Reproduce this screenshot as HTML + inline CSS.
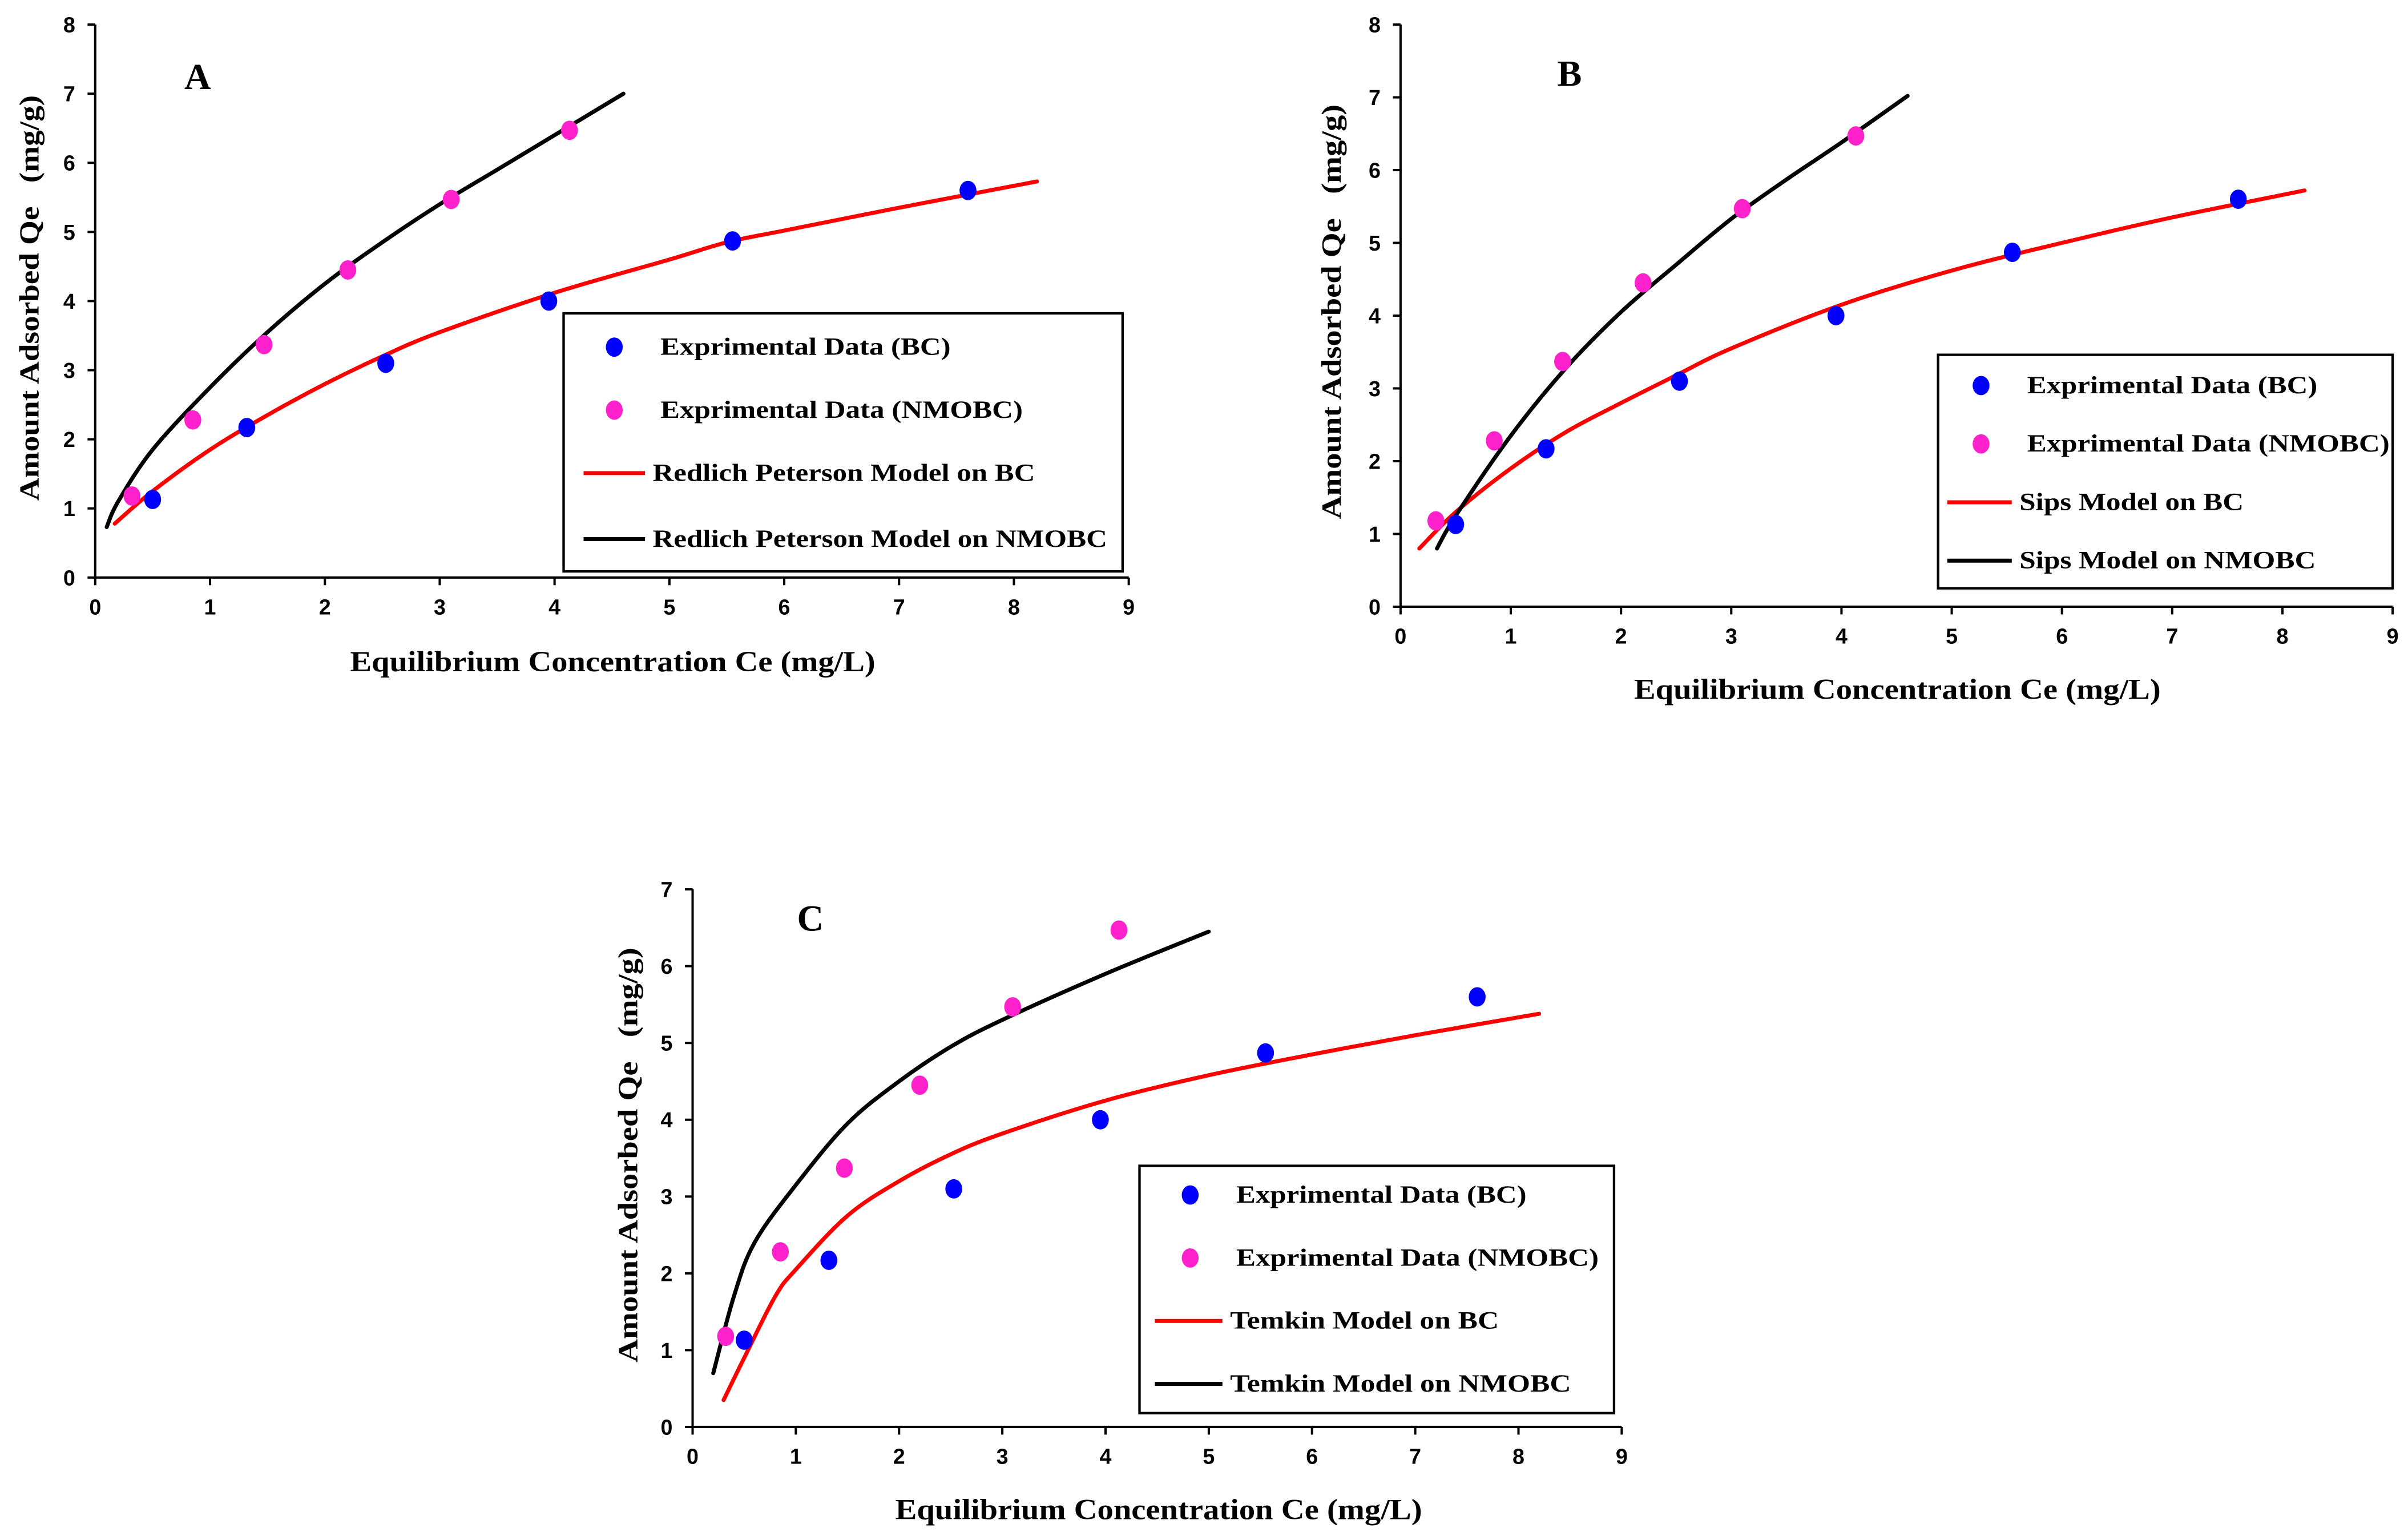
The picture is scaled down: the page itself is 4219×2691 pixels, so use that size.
<!DOCTYPE html>
<html><head><meta charset="utf-8"><style>
html,body{margin:0;padding:0;background:#fff;}
svg{display:block;}
</style></head><body>
<svg id="fig" xmlns="http://www.w3.org/2000/svg" width="4219" height="2691" viewBox="0 0 1568 1000" preserveAspectRatio="none"></svg>
<script>
// Data (shared experimental points)
const bcX = [0.5, 1.32, 2.53, 3.95, 5.55, 7.6];
const bcY = [1.13, 2.17, 3.1, 4.0, 4.87, 5.6];
const nmX = [0.32, 0.85, 1.47, 2.2, 3.1, 4.13];
const nmY = [1.18, 2.28, 3.37, 4.45, 5.47, 6.47];
// Model curves
const aRedX = [0.17,0.5,1,1.5,2,2.5,3,4,5,5.5,6,7,8.2];
const aRedY = [0.78,1.25,1.85,2.35,2.8,3.2,3.55,4.12,4.6,4.85,5.02,5.35,5.73];
const aBlkX = [0.1,0.2,0.5,1,1.5,2,2.5,3,3.5,4,4.6];
const aBlkY = [0.73,1.1,1.85,2.75,3.55,4.25,4.85,5.4,5.9,6.4,7.0];
const bRedX = [0.17,0.5,1,1.5,2,2.5,3,4,5,6,7,8.2];
const bRedY = [0.8,1.3,1.9,2.4,2.8,3.18,3.55,4.15,4.62,5.0,5.35,5.72];
const bBlkX = [0.33,0.5,1,1.5,2,2.5,3,3.5,4,4.6];
const bBlkY = [0.8,1.25,2.35,3.28,4.05,4.7,5.33,5.87,6.38,7.02];
const cRedX = [0.3,0.5,0.8,1,1.5,2,2.5,3,4,5,6,7,8.2];
const cRedY = [0.35,0.9,1.7,2.05,2.75,3.2,3.55,3.82,4.25,4.58,4.85,5.1,5.38];
const cBlkX = [0.2,0.4,0.6,1,1.5,2,2.5,3,4,5];
const cBlkY = [0.7,1.7,2.4,3.15,3.95,4.5,4.95,5.3,5.9,6.45];
const xTicks = [0,1,2,3,4,5,6,7,8,9];
const yTicksAB = [0,1,2,3,4,5,6,7,8];
const yTicksC = [0,1,2,3,4,5,6,7];

const NS = "http://www.w3.org/2000/svg";
const svg = document.getElementById('fig');
function mk(tag, attrs, parent){
  const e = document.createElementNS(NS, tag);
  for (const k in attrs) e.setAttribute(k, attrs[k]);
  (parent||svg).appendChild(e);
  return e;
}
function txt(str, attrs, parent){ const t = mk('text', attrs, parent); t.textContent = str; return t; }

function smoothPath(P){
  let d = 'M' + P[0][0].toFixed(2) + ',' + P[0][1].toFixed(2);
  for (let i = 0; i < P.length - 1; i++){
    const p0 = P[Math.max(0,i-1)], p1 = P[i], p2 = P[i+1], p3 = P[Math.min(P.length-1,i+2)];
    const c1x = p1[0] + (p2[0]-p0[0])/6, c1y = p1[1] + (p2[1]-p0[1])/6;
    const c2x = p2[0] - (p3[0]-p1[0])/6, c2y = p2[1] - (p3[1]-p1[1])/6;
    d += ' C' + [c1x,c1y,c2x,c2y,p2[0],p2[1]].map(v=>v.toFixed(2)).join(',');
  }
  return d;
}

function panel(p){
  const g = mk('g', {});
  
  
  const sx = v => p.x0 + (p.x9 - p.x0) * v / 9;
  const sy = v => p.y0 - (p.y0 - p.yt) * v / p.ymax;
  const ax = mk('line', {x1:p.x0, y1:p.y0, x2:p.x9, y2:p.y0, stroke:'#000','stroke-width':1.5}, g);
  
  
  const ay = mk('line', {x1:p.x0, y1:p.y0, x2:p.x0, y2:p.yt, stroke:'#000','stroke-width':1.5}, g);
  
  
  xTicks.forEach(v => {
    mk('line', {x1:sx(v), y1:p.y0, x2:sx(v), y2:p.y0+5, stroke:'#000','stroke-width':1.5}, g);
    const t = txt(String(v), {x:sx(v), y:p.y0+24, 'text-anchor':'middle', 'font-family':'Liberation Sans, sans-serif', 'font-weight':'bold', 'font-size':14}, g);
    
    
  });
  p.yTicks.forEach(v => {
    mk('line', {x1:p.x0-5, y1:sy(v), x2:p.x0, y2:sy(v), stroke:'#000','stroke-width':1.5}, g);
    const t = txt(String(v), {x:p.x0-13, y:sy(v)+5, 'text-anchor':'end', 'font-family':'Liberation Sans, sans-serif', 'font-weight':'bold', 'font-size':14}, g);
    
    
  });
  const xt = txt('Equilibrium Concentration Ce (mg/L)', {x:p.xtX, y:p.xtY, 'font-family':'Liberation Serif, serif','font-weight':'bold','font-size':19, textLength:p.xtL, lengthAdjust:'spacingAndGlyphs'}, g);
  
  
  const yt = txt('Amount Adsorbed Qe \u00a0\u00a0(mg/g)', {x:0, y:0, transform:`translate(${p.ytX},${p.ytY}) rotate(-90)`, 'font-family':'Liberation Serif, serif','font-weight':'bold','font-size':18, textLength:p.ytL, lengthAdjust:'spacingAndGlyphs'}, g);
  
  
  const lt = txt(p.id, {x:p.lx, y:p.ly, 'font-family':'Liberation Serif, serif','font-weight':'bold','font-size':24}, g);
  
  
  function curve(xs, ys, color, name){
    const P = xs.map((x,i)=>[sx(x), sy(ys[i])]);
    const c = mk('path', {d:smoothPath(P), fill:'none', stroke:color, 'stroke-width':2.6, 'stroke-linejoin':'round','stroke-linecap':'round'}, g);
    
    
  }
  curve(p.rx, p.ry, '#ff0000', 'model-curve-bc');
  curve(p.bx, p.by, '#000000', 'model-curve-nmobc');
  function pts(xs, ys, color, name){
    xs.forEach((x,i)=>{
      const e = mk('ellipse', {cx:sx(x), cy:sy(ys[i]), rx:5.5, ry:6.3, fill:color}, g);
      
      
    });
  }
  pts(bcX, bcY, '#0000ff', 'point-bc');
  pts(nmX, nmY, '#ff22cc', 'point-nmobc');
  const L = p.leg;
  const lg = mk('g', {}, g);
  
  
  mk('rect', {x:L.x, y:L.y, width:L.w, height:L.h, fill:'#fff', stroke:'#000', 'stroke-width':1.6}, lg);
  const fs = {'font-family':'Liberation Serif, serif','font-weight':'bold','font-size':16, lengthAdjust:'spacingAndGlyphs'};
  const e1 = mk('ellipse', {cx:L.mx, cy:L.rows[0], rx:5.5, ry:6.3, fill:'#0000ff'}, lg);
   
  const t1 = txt('Exprimental Data (BC)', Object.assign({x:L.tx, y:L.rows[0]+5, textLength:L.w1}, fs), lg);
   
  const e2 = mk('ellipse', {cx:L.mx, cy:L.rows[1], rx:5.5, ry:6.3, fill:'#ff22cc'}, lg);
   
  const t2 = txt('Exprimental Data (NMOBC)', Object.assign({x:L.tx, y:L.rows[1]+5, textLength:L.w2}, fs), lg);
   
  const l3 = mk('line', {x1:L.l1, y1:L.rows[2], x2:L.l2, y2:L.rows[2], stroke:'#ff0000','stroke-width':2.6}, lg);
   
  const t3 = txt(p.model + ' Model on BC', Object.assign({x:L.lt, y:L.rows[2]+5, textLength:L.w3}, fs), lg);
   
  const l4 = mk('line', {x1:L.l1, y1:L.rows[3], x2:L.l2, y2:L.rows[3], stroke:'#000','stroke-width':2.6}, lg);
   
  const t4 = txt(p.model + ' Model on NMOBC', Object.assign({x:L.lt, y:L.rows[3]+5, textLength:L.w4}, fs), lg);
   
}

panel({id:'A', model:'Redlich Peterson', x0:62, x9:735, y0:376, yt:16, ymax:8, yTicks:yTicksAB,
  xtX:228, xtY:437, xtL:342, ytX:25, ytY:326, ytL:264, lx:120, ly:58,
  rx:aRedX, ry:aRedY, bx:aBlkX, by:aBlkY,
  leg:{x:367,y:204,w:364,h:168, mx:400, tx:430, l1:380, l2:420, lt:425, rows:[226,267,308,351], w1:189, w2:236, w3:249, w4:296}});
panel({id:'B', model:'Sips', x0:912, x9:1558, y0:395, yt:16, ymax:8, yTicks:yTicksAB,
  xtX:1064, xtY:455, xtL:343, ytX:873, ytY:338, ytL:270, lx:1014, ly:56,
  rx:bRedX, ry:bRedY, bx:bBlkX, by:bBlkY,
  leg:{x:1262,y:231,w:296,h:152, mx:1290, tx:1320, l1:1268, l2:1310, lt:1315, rows:[251,289,327,365], w1:189, w2:236, w3:146, w4:193}});
panel({id:'C', model:'Temkin', x0:451, x9:1056, y0:929, yt:579, ymax:7, yTicks:yTicksC,
  xtX:583, xtY:989, xtL:343, ytX:415, ytY:887, ytL:270, lx:519, ly:606,
  rx:cRedX, ry:cRedY, bx:cBlkX, by:cBlkY,
  leg:{x:742,y:759,w:309,h:161, mx:775, tx:805, l1:752, l2:796, lt:801, rows:[778,819,860,901], w1:189, w2:236, w3:175, w4:222}});
</script>
</body></html>
